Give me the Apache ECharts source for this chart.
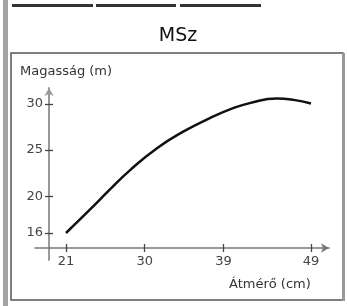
<!DOCTYPE html>
<html>
<head>
<meta charset="utf-8">
<script src="https://cdn.jsdelivr.net/npm/echarts@6/dist/echarts.min.js"></script>
<style>
  html, body { margin: 0; padding: 0; background: #fff; }
  #chart { width: 347px; height: 306px; }
</style>
</head>
<body>
<div id="chart"></div>
<script>
var diameters = [21, 23.7, 26, 28.3, 31.4, 34.4, 37.5, 40.1, 42, 45.1, 47, 49];
var heights = [16, 18.5, 20.7, 22.8, 25.2, 27, 28.5, 29.55, 30.1, 30.6, 30.45, 30.05];
var xTicks = [21, 30, 39, 49];
var yTicks = [16, 20, 25, 30];

var font = 'DejaVu Sans';
var dom = document.getElementById('chart');
var myChart = echarts.init(dom, null, { renderer: 'canvas' });

var lineData = diameters.map(function (d, i) { return [d, heights[i]]; });

// axis template; the second copy draws the inner half of each tick
function xAx(inside) {
    return {
        type: 'value', position: 'bottom', offset: -12,
        min: 17.46, max: 51.06,
        axisLine: inside ? { show: false } : {
            show: true, symbol: ['none', 'arrow'], symbolSize: [7, 8],
            lineStyle: { color: '#777', width: 1.5 }
        },
        axisTick: { show: true, inside: inside, length: 4, customValues: xTicks,
            lineStyle: { color: '#444', width: 1.3 } },
        axisLabel: { show: !inside, customValues: xTicks, margin: 7,
            color: '#444', fontFamily: font, fontSize: 13 },
        splitLine: { show: false }
    };
}
function yAx(inside) {
    return {
        type: 'value', position: 'left', offset: -14,
        min: 13.07, max: 31.74,
        axisLine: inside ? { show: false } : {
            show: true, symbol: ['none', 'arrow'], symbolSize: [7, 8],
            lineStyle: { color: '#999', width: 2 }
        },
        axisTick: { show: true, inside: inside, length: 4, customValues: yTicks,
            lineStyle: { color: '#444', width: 1.3 } },
        axisLabel: { show: !inside, customValues: yTicks, margin: 6,
            color: '#444', fontFamily: font, fontSize: 13 },
        splitLine: { show: false }
    };
}

var option = {
    animation: false,
    backgroundColor: '#fff',
    title: {
        text: 'MSz', left: 173, top: 22, textAlign: 'center',
        textStyle: { fontFamily: font, fontSize: 19, fontWeight: 'normal', color: '#111' }
    },
    grid: { left: 35, right: 18, top: 88, bottom: 46 },
    xAxis: [xAx(false), xAx(true)],
    yAxis: [yAx(false), yAx(true)],
    graphic: [
        { type: 'rect', shape: { x: 3, y: 0, width: 5, height: 306 }, style: { fill: '#a3a3a3' }, z: 0 },
        { type: 'line', shape: { x1: 12, y1: 5.5, x2: 93, y2: 5.5 }, style: { stroke: '#333', lineWidth: 3 } },
        { type: 'line', shape: { x1: 96, y1: 5.5, x2: 176, y2: 5.5 }, style: { stroke: '#333', lineWidth: 3 } },
        { type: 'line', shape: { x1: 180, y1: 5.5, x2: 261, y2: 5.5 }, style: { stroke: '#333', lineWidth: 3 } },
        { type: 'rect', shape: { x: 11, y: 53, width: 332, height: 247 },
          style: { fill: 'none', stroke: '#555', lineWidth: 1.5 } },
        { type: 'line', shape: { x1: 343.5, y1: 53, x2: 343.5, y2: 301 }, style: { stroke: '#999', lineWidth: 3 } },
        { type: 'text', x: 20, y: 65, style: { text: 'Magasság (m)', fontFamily: font, fontSize: 13, fill: '#333' } },
        { type: 'text', x: 229, y: 278, style: { text: 'Átmérő (cm)', fontFamily: font, fontSize: 13, fill: '#333' } }
    ],
    series: [
        {
            type: 'line',
            smooth: true,
            showSymbol: false,
            data: lineData,
            lineStyle: { color: '#111', width: 2.5 }
        }
    ]
};

myChart.setOption(option);
window.addEventListener('resize', myChart.resize);
</script>
</body>
</html>
